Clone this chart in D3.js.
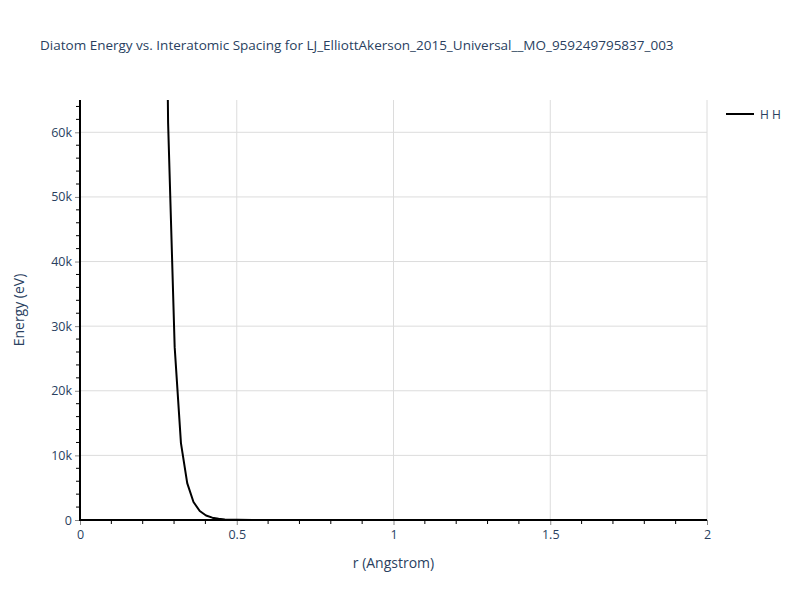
<!DOCTYPE html>
<html>
<head>
<meta charset="utf-8">
<script src="https://d3js.org/d3.v7.min.js"></script>
<style>
  body { margin: 0; background: #fff; }
  svg { font-family: "Open Sans", verdana, arial, sans-serif; }
</style>
</head>
<body>
<div id="chart"></div>
<script>
// === Data ===
var chartTitle = "Diatom Energy vs. Interatomic Spacing for LJ_ElliottAkerson_2015_Universal__MO_959249795837_003";
var seriesName = "H H";
var rValues = [0.261, 0.281, 0.302, 0.322, 0.342, 0.362, 0.382, 0.402, 0.422, 0.442, 0.462, 0.482, 0.502, 0.55, 0.6, 0.8, 1.0, 1.5, 2.0];
var energyValues = [148000, 61500, 26750, 11900, 5700, 2780, 1390, 700, 360, 180, 90, 45, 20, 5, 0, 0, 0, 0, 0];
var xTicks = [0, 0.5, 1, 1.5, 2];
var xTickLabels = ["0", "0.5", "1", "1.5", "2"];
var yTicks = [0, 10000, 20000, 30000, 40000, 50000, 60000];
var yTickLabels = ["0", "10k", "20k", "30k", "40k", "50k", "60k"];
var xMinor = [0.1, 0.2, 0.3, 0.4, 0.6, 0.7, 0.8, 0.9, 1.1, 1.2, 1.3, 1.4, 1.6, 1.7, 1.8, 1.9];
var yMinor = [2000, 4000, 6000, 8000, 12000, 14000, 16000, 18000, 22000, 24000, 26000, 28000,
  32000, 34000, 36000, 38000, 42000, 44000, 46000, 48000, 52000, 54000, 56000, 58000, 62000, 64000];

// === Layout ===
var W = 800, H = 600;
var plotLeft = 80, plotRight = 707, plotTop = 100, plotBottom = 520;
var textColor = "#2a3f5f";

var svg = d3.select("#chart").append("svg")
    .attr("width", W)
    .attr("height", H);

var x = d3.scaleLinear().domain([0, 2]).range([plotLeft, plotRight]);
var y = d3.scaleLinear().domain([0, 65000]).range([plotBottom, plotTop]);

// title
svg.append("text")
    .attr("x", 40)
    .attr("y", 50)
    .attr("fill", textColor)
    .style("font-size", "13.5px")
    .text(chartTitle);

// grid
svg.append("g").selectAll("line")
    .data(xTicks.filter(function (d) { return d > 0; }))
    .enter().append("line")
    .attr("x1", function (d) { return x(d); })
    .attr("x2", function (d) { return x(d); })
    .attr("y1", plotTop).attr("y2", plotBottom)
    .attr("stroke", "#dcdcdc").attr("stroke-width", 1);
svg.append("g").selectAll("line")
    .data(yTicks.filter(function (d) { return d > 0; }))
    .enter().append("line")
    .attr("x1", plotLeft).attr("x2", plotRight)
    .attr("y1", function (d) { return y(d); })
    .attr("y2", function (d) { return y(d); })
    .attr("stroke", "#dcdcdc").attr("stroke-width", 1);

// clip
svg.append("clipPath").attr("id", "clip")
    .append("rect")
    .attr("x", plotLeft).attr("y", plotTop)
    .attr("width", plotRight - plotLeft).attr("height", plotBottom - plotTop);

var line = d3.line()
    .x(function (d, i) { return x(rValues[i]); })
    .y(function (d) { return y(d); });

svg.append("path")
    .datum(energyValues)
    .attr("clip-path", "url(#clip)")
    .attr("d", line)
    .attr("fill", "none")
    .attr("stroke", "#000")
    .attr("stroke-width", 2)
    .attr("stroke-linejoin", "round");

// x axis
var xAxis = d3.axisBottom(x).tickValues(xTicks)
    .tickFormat(function (d, i) { return xTickLabels[i]; })
    .tickSize(5).tickPadding(5);
var gx = svg.append("g")
    .attr("transform", "translate(0," + plotBottom + ")")
    .call(xAxis);
gx.select(".domain").remove();
gx.selectAll(".tick line").attr("stroke", "#888");
gx.selectAll(".tick text").attr("fill", textColor).style("font-size", "12.5px")
    .style("font-family", "\"Open Sans\", verdana, arial, sans-serif");
svg.append("g").selectAll("line")
    .data(xMinor).enter().append("line")
    .attr("x1", function (d) { return x(d); })
    .attr("x2", function (d) { return x(d); })
    .attr("y1", plotBottom).attr("y2", plotBottom + 4)
    .attr("stroke", "#000");

// y axis
var yAxis = d3.axisLeft(y).tickValues(yTicks)
    .tickFormat(function (d, i) { return yTickLabels[i]; })
    .tickSize(5).tickPadding(3);
var gy = svg.append("g")
    .attr("transform", "translate(" + plotLeft + ",0)")
    .call(yAxis);
gy.select(".domain").remove();
gy.selectAll(".tick line").attr("stroke", "#888");
gy.selectAll(".tick text").attr("fill", textColor).style("font-size", "12.5px")
    .style("font-family", "\"Open Sans\", verdana, arial, sans-serif");
svg.append("g").selectAll("line")
    .data(yMinor).enter().append("line")
    .attr("x1", plotLeft - 4).attr("x2", plotLeft)
    .attr("y1", function (d) { return y(d); })
    .attr("y2", function (d) { return y(d); })
    .attr("stroke", "#000");

// axis lines
svg.append("line")
    .attr("x1", plotLeft).attr("x2", plotRight)
    .attr("y1", plotBottom).attr("y2", plotBottom)
    .attr("stroke", "#000").attr("stroke-width", 2);
svg.append("line")
    .attr("x1", plotLeft).attr("x2", plotLeft)
    .attr("y1", plotTop).attr("y2", plotBottom + 1)
    .attr("stroke", "#000").attr("stroke-width", 2);

// axis titles
svg.append("text")
    .attr("x", (plotLeft + plotRight) / 2)
    .attr("y", 568)
    .attr("text-anchor", "middle")
    .attr("fill", textColor)
    .style("font-size", "14px")
    .text("r (Angstrom)");
svg.append("text")
    .attr("transform", "translate(24," + (plotTop + plotBottom) / 2 + ") rotate(-90)")
    .attr("text-anchor", "middle")
    .attr("fill", textColor)
    .style("font-size", "14px")
    .text("Energy (eV)");

// legend
svg.append("line")
    .attr("x1", 726).attr("x2", 754)
    .attr("y1", 114).attr("y2", 114)
    .attr("stroke", "#000").attr("stroke-width", 2);
svg.append("text")
    .attr("x", 760).attr("y", 118.5)
    .attr("fill", textColor)
    .style("font-size", "12px")
    .text(seriesName);
</script>
</body>
</html>
